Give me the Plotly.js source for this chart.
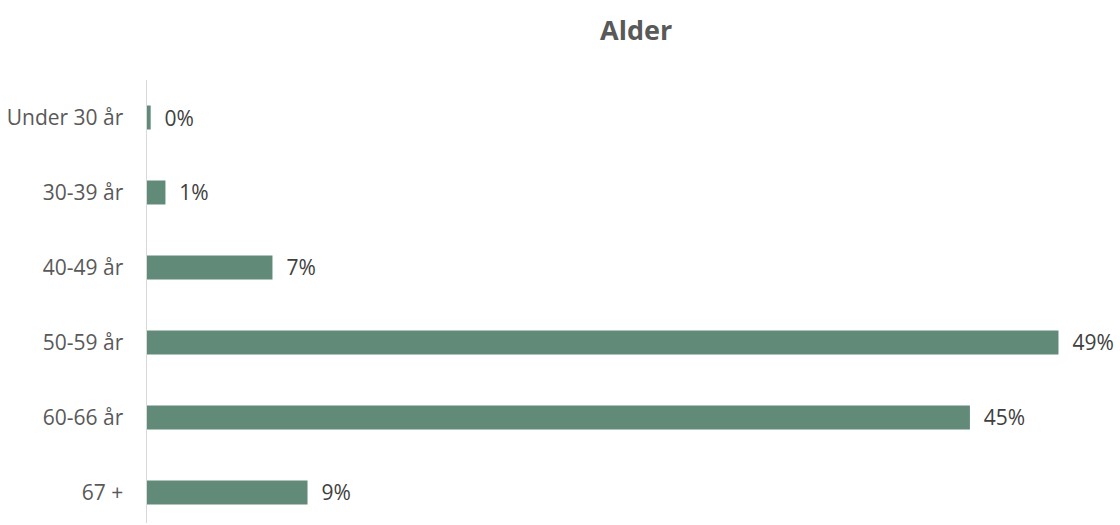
<!DOCTYPE html>
<html><head><meta charset="utf-8">
<script src="https://cdn.plot.ly/plotly-3.0.1.min.js"></script>
<style>html,body{margin:0;padding:0;background:#fff;}#chart{width:1120px;height:525px;}</style>
</head><body><div id="chart"></div>
<script>
const categories = ["Under 30 år", "30-39 år", "40-49 år", "50-59 år", "60-66 år", "67 +"];
const values = [0.2, 1.0, 6.8, 49.4, 44.6, 8.7];
const chartTitle = "Alder";

const trace = {
  type: "bar", orientation: "h",
  y: categories, x: values,
  marker: {color: "#618b78"},
  texttemplate: "\u00a0\u00a0%{x:.0f}%",
  textposition: "outside",
  constraintext: "none",
  cliponaxis: false,
  textfont: {family: "Open Sans, sans-serif", size: 21, color: "#404040"},
  hoverinfo: "skip"
};
const layout = {
  width: 1120, height: 525,
  margin: {l: 147, r: 20, t: 80, b: 2},
  paper_bgcolor: "#fff", plot_bgcolor: "#fff",
  bargap: 0.68,
  showlegend: false,
  title: {text: "<b>" + chartTitle + "</b>", x: 0.568, xanchor: "center", y: 0.942, yanchor: "middle",
          font: {family: "Open Sans, sans-serif", size: 27, color: "#595959"}},
  xaxis: {range: [0, 51.65], showgrid: false, zeroline: false, showticklabels: false, showline: false, fixedrange: true},
  yaxis: {type: "category", range: [5.407, -0.5], showgrid: false, zeroline: false,
          showline: true, linecolor: "#d9d9d9", linewidth: 1.5, ticks: "", ticklabelstandoff: 18,
          tickfont: {family: "Open Sans, sans-serif", size: 21, color: "#595959"}}
};
Plotly.newPlot("chart", [trace], layout, {displayModeBar: false, staticPlot: true});
</script></body></html>
